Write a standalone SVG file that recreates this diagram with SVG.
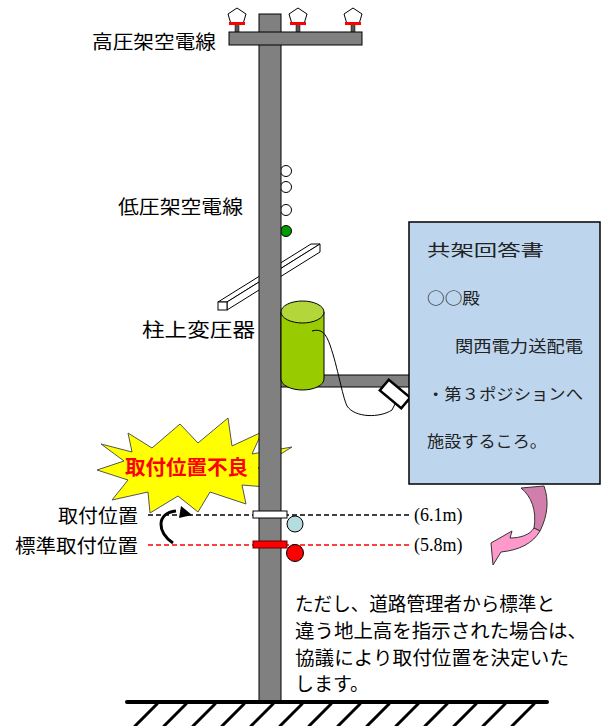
<svg xmlns="http://www.w3.org/2000/svg" width="605" height="726" viewBox="0 0 605 726">
  <style>
    .lbl { font-family: "Noto Sans CJK JP", "Liberation Sans", sans-serif; font-size: 19px; fill: #000; }
    .doc { font-family: "Noto Sans CJK JP", "Liberation Serif", serif; font-size: 16px; fill: #222; }
    .hgt { font-family: "Liberation Serif", serif; font-size: 18px; fill: #000; }
    .gray { fill: #808080; stroke: #000; stroke-width: 1; }
    .ins { fill: #fff; stroke: #000; stroke-width: 1; }
    .hatch { stroke: #000; stroke-width: 3; stroke-linecap: round; }
  </style>

  <!-- low-voltage wires (behind the pole) -->
  <g id="low-voltage-wires">
    <circle cx="286" cy="171" r="5.5" fill="#fff" stroke="#000"/>
    <circle cx="286" cy="187" r="5.5" fill="#fff" stroke="#000"/>
    <circle cx="286" cy="210" r="5.5" fill="#fff" stroke="#000"/>
    <circle cx="286" cy="231" r="5.5" fill="#009900" stroke="#000"/>
  </g>

  <!-- diagonal brace bar -->
  <g id="brace">
    <polygon points="218,302 311,244 320,244 227,302" fill="#fff" stroke="#000"/>
    <polygon points="227,302 320,244 320,252 227,310" fill="#fff" stroke="#000"/>
    <rect x="218" y="302" width="9" height="8" fill="#fff" stroke="#000"/>
  </g>

  <!-- warning burst -->
  <g id="warning">
    <polygon points="128,433 152,448 180,424 198,443 228,418 232,446 262,432 252,454 292,447 258,468 278,488 242,485 246,504 210,492 198,512 178,496 150,513 148,492 112,500 128,480 97,470 124,461 101,444 132,452" fill="#ffff00" stroke="#555" stroke-width="1"/>
    <text x="125" y="475" font-family="'Noto Sans CJK JP', 'Liberation Sans', sans-serif" font-size="20" font-weight="bold" fill="#ff0000" textLength="123" lengthAdjust="spacingAndGlyphs">取付位置不良</text>
  </g>

  <!-- transformer bracket arm -->
  <rect id="bracket" class="gray" x="280" y="375" width="130" height="12"/>

  <!-- utility pole -->
  <g id="pole">
    <rect class="gray" x="259" y="14" width="22" height="688"/>
  </g>

  <!-- cross-arm with insulators -->
  <g id="crossarm">
    <rect x="235" y="24" width="4" height="9" fill="#555" stroke="#000" stroke-width="0.5"/>
    <rect x="296" y="24" width="4" height="9" fill="#555" stroke="#000" stroke-width="0.5"/>
    <rect x="351" y="24" width="4" height="9" fill="#555" stroke="#000" stroke-width="0.5"/>
    <rect class="gray" x="229" y="32" width="133" height="13"/>
    <polygon class="ins" points="237,8 246,14 243,24 231,24 228,14"/>
    <polygon class="ins" points="298,8 307,14 304,24 292,24 289,14"/>
    <polygon class="ins" points="353,8 362,14 359,24 347,24 344,14"/>
    <line x1="229" y1="23.5" x2="245" y2="23.5" stroke="#ff0000" stroke-width="3"/>
    <line x1="290" y1="23.5" x2="306" y2="23.5" stroke="#ff0000" stroke-width="3"/>
    <line x1="345" y1="23.5" x2="361" y2="23.5" stroke="#ff0000" stroke-width="3"/>
  </g>

  <!-- pole-mounted transformer -->
  <g id="transformer">
    <path d="M281,312 L281,379 A21.5,11 0 0 0 324,379 L324,312 Z" fill="#99cc00" stroke="#000"/>
    <ellipse cx="302.5" cy="312" rx="21.5" ry="11" fill="#b3d63a" stroke="#000"/>
    <path d="M312,331 C322,328 326,334 330,345 C338,368 342,395 347,406 C355,418 380,418 392,410 L397,400" fill="none" stroke="#000" stroke-width="1"/>
  </g>

  <!-- attachment device -->
  <g id="device">
    <rect x="381" y="387" width="28" height="14" fill="#fff" stroke="#000" stroke-width="2.5" transform="rotate(40 395 394)"/>
  </g>

  <!-- reply document -->
  <g id="document">
    <rect x="409" y="222" width="191" height="262" fill="#bdd6ee" stroke="#000" stroke-width="1.5"/>
    <text class="doc" x="427" y="256" font-size="20" textLength="117" lengthAdjust="spacingAndGlyphs">共架回答書</text>
    <text class="doc" x="427" y="304" textLength="53" lengthAdjust="spacingAndGlyphs">○○殿</text>
    <text class="doc" x="455" y="352" textLength="128" lengthAdjust="spacingAndGlyphs">関西電力送配電</text>
    <text class="doc" x="427" y="400" textLength="156" lengthAdjust="spacingAndGlyphs">・第３ポジションへ</text>
    <text class="doc" x="427" y="447" textLength="120" lengthAdjust="spacingAndGlyphs">施設するころ。</text>
  </g>

  <!-- curved pink arrow -->
  <g id="pink-arrow" stroke="#333" stroke-width="1" stroke-linejoin="round">
    <path d="M521,488 C531,496 537,510 534,528 L540,531 C548,515 549,500 544,486 Z" fill="#d27eac"/>
    <path d="M534,528 C530,535 520,538 510,538 L512,531 L491,543 L493,565 L501,552 C520,550 533,543 540,531 Z" fill="#ff99cc"/>
  </g>

  <!-- height connectors -->
  <g id="connectors">
    <line x1="148" y1="515" x2="412" y2="515" stroke="#000" stroke-width="1.5" stroke-dasharray="5,3"/>
    <line x1="148" y1="545" x2="412" y2="545" stroke="#ff0000" stroke-width="1.5" stroke-dasharray="5,3"/>
    <path d="M173,543 C157,533 156,513 176,511" fill="none" stroke="#000" stroke-width="3"/>
    <polygon points="181,506 192,515 179,518" fill="#000"/>
  </g>

  <!-- mounting positions on the pole -->
  <g id="mount-actual">
    <rect x="253" y="511" width="34" height="7" fill="#fff" stroke="#000"/>
    <circle cx="295" cy="524" r="8" fill="#b4dde0" stroke="#000"/>
  </g>
  <g id="mount-standard">
    <rect x="253" y="541" width="34" height="7" fill="#ff0000" stroke="#600"/>
    <circle cx="295" cy="553" r="8.5" fill="#ff0000" stroke="#000"/>
  </g>

  <!-- labels -->
  <g id="labels">
    <text class="lbl" x="92" y="49" textLength="124" lengthAdjust="spacingAndGlyphs">高圧架空電線</text>
    <text class="lbl" x="118" y="214" textLength="125" lengthAdjust="spacingAndGlyphs">低圧架空電線</text>
    <text class="lbl" x="142" y="337" textLength="113" lengthAdjust="spacingAndGlyphs">柱上変圧器</text>
    <text class="lbl" x="58" y="523" textLength="80" lengthAdjust="spacingAndGlyphs">取付位置</text>
    <text class="lbl" x="15" y="553" textLength="123" lengthAdjust="spacingAndGlyphs">標準取付位置</text>
    <text class="hgt" x="414" y="521">(6.1m)</text>
    <text class="hgt" x="414" y="551">(5.8m)</text>
  </g>

  <!-- note -->
  <g id="note" class="lbl">
    <text x="295" y="611" textLength="260" lengthAdjust="spacingAndGlyphs">ただし、道路管理者から標準と</text>
    <text x="295" y="638" textLength="292" lengthAdjust="spacingAndGlyphs">違う地上高を指示された場合は、</text>
    <text x="295" y="665" textLength="274" lengthAdjust="spacingAndGlyphs">協議により取付位置を決定いた</text>
    <text x="295" y="691">します。</text>
  </g>

  <!-- ground -->
  <g id="ground">
    <line x1="127" y1="702" x2="547" y2="702" stroke="#000" stroke-width="4" stroke-linecap="round"/>
    <line class="hatch" x1="157" y1="704" x2="135" y2="726"/>
    <line class="hatch" x1="186" y1="704" x2="164" y2="726"/>
    <line class="hatch" x1="215" y1="704" x2="193" y2="726"/>
    <line class="hatch" x1="244" y1="704" x2="222" y2="726"/>
    <line class="hatch" x1="273" y1="704" x2="251" y2="726"/>
    <line class="hatch" x1="302" y1="704" x2="280" y2="726"/>
    <line class="hatch" x1="331" y1="704" x2="309" y2="726"/>
    <line class="hatch" x1="360" y1="704" x2="338" y2="726"/>
    <line class="hatch" x1="389" y1="704" x2="367" y2="726"/>
    <line class="hatch" x1="418" y1="704" x2="396" y2="726"/>
    <line class="hatch" x1="447" y1="704" x2="425" y2="726"/>
    <line class="hatch" x1="476" y1="704" x2="454" y2="726"/>
    <line class="hatch" x1="505" y1="704" x2="483" y2="726"/>
    <line class="hatch" x1="534" y1="704" x2="512" y2="726"/>
  </g>
</svg>
